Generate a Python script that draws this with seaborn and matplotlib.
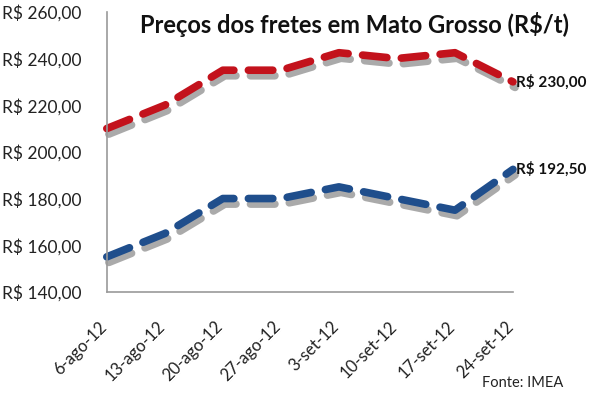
import pandas as pd
import matplotlib.pyplot as plt
import matplotlib.patheffects as pe
import matplotlib.transforms as mtransforms
import seaborn as sns

datas = ["6-ago-12", "13-ago-12", "20-ago-12", "27-ago-12",
         "3-set-12", "10-set-12", "17-set-12", "24-set-12"]
frete_vermelho = [210.0, 220.0, 235.0, 235.0, 242.5, 240.0, 242.5, 230.0]
frete_azul = [155.0, 165.0, 180.0, 180.0, 185.0, 180.0, 175.0, 192.5]
yticks = [140, 160, 180, 200, 220, 240, 260]

sns.set_theme(style="white")
plt.rcParams["font.family"] = ["Lato", "DejaVu Sans"]

fig = plt.figure(figsize=(6, 3.96), dpi=100)
ax = fig.add_axes([0.178, 0.263, 0.677, 0.707])

df = pd.DataFrame({"data": datas, "vermelho": frete_vermelho, "azul": frete_azul})
df["pos"] = range(len(df))

# sombra cinza por baixo das linhas tracejadas
sombra = [pe.SimpleLineShadow(offset=(1.5, -4), shadow_color="#444444", alpha=0.45),
          pe.Normal()]
for col, cor in [("vermelho", "#C3121C"), ("azul", "#1F4E8C")]:
    sns.lineplot(data=df, x="pos", y=col, ax=ax, color=cor, lw=5.5)
    ln = ax.lines[-1]
    ln.set_dashes((3.2, 1.9))
    ln.set_dash_capstyle("round")
    ln.set_solid_capstyle("round")
    ln.set_path_effects(sombra)
    ln.set_clip_on(False)

ax.set_xlim(0, len(datas) - 1)
ax.set_ylim(yticks[0], yticks[-1])
ax.set_yticks(yticks)
ax.set_yticklabels([f"R$ {v},00" for v in yticks], fontsize=12.5, color="#222222")
ax.set_xticks(df["pos"])
ax.set_xticklabels(datas, rotation=45, ha="right", rotation_mode="anchor",
                   fontsize=12, color="#222222")
ax.tick_params(axis="y", pad=18, length=0)
ax.tick_params(axis="x", pad=17, length=0)
desloc = mtransforms.ScaledTranslation(-8 / 100, -3 / 100, fig.dpi_scale_trans)
for lbl in ax.get_xticklabels():
    lbl.set_transform(lbl.get_transform() + desloc)
ax.set_xlabel("")
ax.set_ylabel("")

sns.despine(ax=ax)
for s in ["left", "bottom"]:
    ax.spines[s].set_color("#9a9a9a")
    ax.spines[s].set_linewidth(1.2)

ax.text(0.61, 1.0, "Preços dos fretes em Mato Grosso (R$/t)", transform=ax.transAxes,
        fontsize=17, fontweight="bold", color="#111111", ha="center", va="top")
ax.annotate(f"R$ {frete_vermelho[-1]:.2f}".replace(".", ","),
            (len(datas) - 1, frete_vermelho[-1]), xytext=(2, 0), textcoords="offset points",
            fontsize=11, fontweight="bold", va="center", ha="left", color="#111111")
ax.annotate(f"R$ {frete_azul[-1]:.2f}".replace(".", ","),
            (len(datas) - 1, frete_azul[-1]), xytext=(2, 0), textcoords="offset points",
            fontsize=11, fontweight="bold", va="center", ha="left", color="#111111")
fig.text(0.938, 0.033, "Fonte: IMEA", fontsize=10.5, ha="right", va="center", color="#222222")

fig.savefig("out.png", dpi=100)
